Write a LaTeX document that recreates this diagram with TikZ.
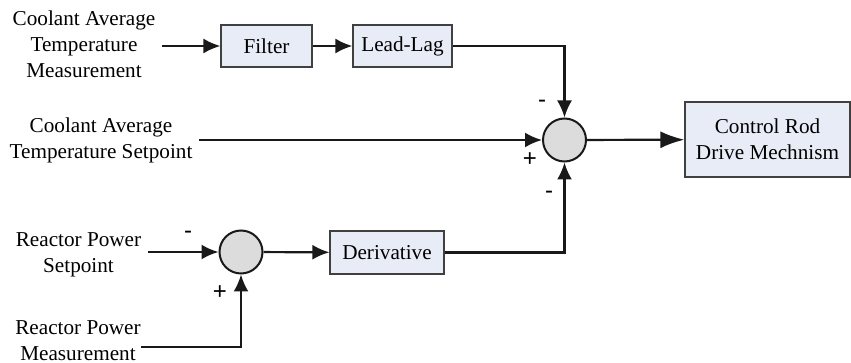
\documentclass[tikz,border=0pt]{standalone}
\usepackage{fontspec}
\setmainfont{Liberation Serif}
\newfontfamily\signefont{Liberation Sans}
\usetikzlibrary{arrows.meta}
\definecolor{blocfond}{HTML}{E8ECF6}
\definecolor{sommefond}{HTML}{DCDCDC}
\tikzset{
	bloc/.style={draw=black!75, line width=0.6pt, fill=blocfond, minimum height=21pt, align=center},
	somme/.style={circle, draw=black!90, line width=1pt, fill=sommefond, minimum size=21.5pt, inner sep=0pt},
	texte/.style={align=center},
	signe/.style={font=\signefont\fontsize{12}{13}\selectfont, inner sep=0pt},
	fleche/.style={-{Latex[length=8.5pt,width=7.5pt]}, line width=1.1pt, draw=black!90},
	grandefleche/.style={-{Latex[length=12pt,width=8.5pt]}, line width=1.1pt, draw=black!90}
}
\begin{document}
\begin{tikzpicture}[x=0.5pt, y=-0.5pt, font=\rmfamily\fontsize{10.6}{13}\selectfont]
	\useasboundingbox (0,0) rectangle (851,363);
	% les entrees
	\node[texte] (mesure) at (84,44) {Coolant Average\\Temperature\\Measurement};
	\node[texte] (consigne) at (101,140) {Coolant Average\\Temperature Setpoint};
	\node[texte] (pconsigne) at (78.5,255) {Reactor Power\\Setpoint};
	\node[texte] (pmesure) at (78,341) {Reactor Power\\Measurement};
	% les blocs
	\node[bloc, minimum width=45.5pt] (filtre) at (266.5,46) {Filter};
	\node[bloc, minimum width=49.5pt] (avance) at (402.5,46) {Lead-Lag};
	\node[bloc, minimum width=57pt, minimum height=21.5pt] (derivee) at (387,252.5) {Derivative};
	\node[bloc, minimum width=82.5pt, minimum height=37.5pt] (barres) at (767.5,139.5) {Control Rod\\Drive Mechnism};
	% les sommateurs
	\node[somme] (s1) at (564.5,140) {};
	\node[somme] (s2) at (241,252) {};
	% les signes
	\node[signe] (s1haut) at (542,104) {-};
	\node[signe] (s1gauche) at (530,160) {+};
	\node[signe] (s1bas) at (549,195) {-};
	\node[signe] (s2gauche) at (188,235) {-};
	\node[signe] (s2bas) at (220,293) {+};
	% les liaisons
	\coordinate (pm) at ([xshift=-3.5pt,yshift=-3pt]pmesure.east);
	\draw[fleche] (mesure.east |- filtre) -- (filtre);
	\draw[fleche] (filtre) -- (avance);
	\draw[fleche] (avance) -| (s1);
	\draw[fleche] (consigne.east |- s1) -- (s1);
	\draw[fleche] (derivee) -| (s1);
	\draw[grandefleche] (s1) -- (barres);
	\draw[fleche] (pconsigne.east |- s2) -- (s2);
	\draw[fleche] (pm) -| (s2);
	\draw[fleche] (s2) -- (derivee);
\end{tikzpicture}
\end{document}
